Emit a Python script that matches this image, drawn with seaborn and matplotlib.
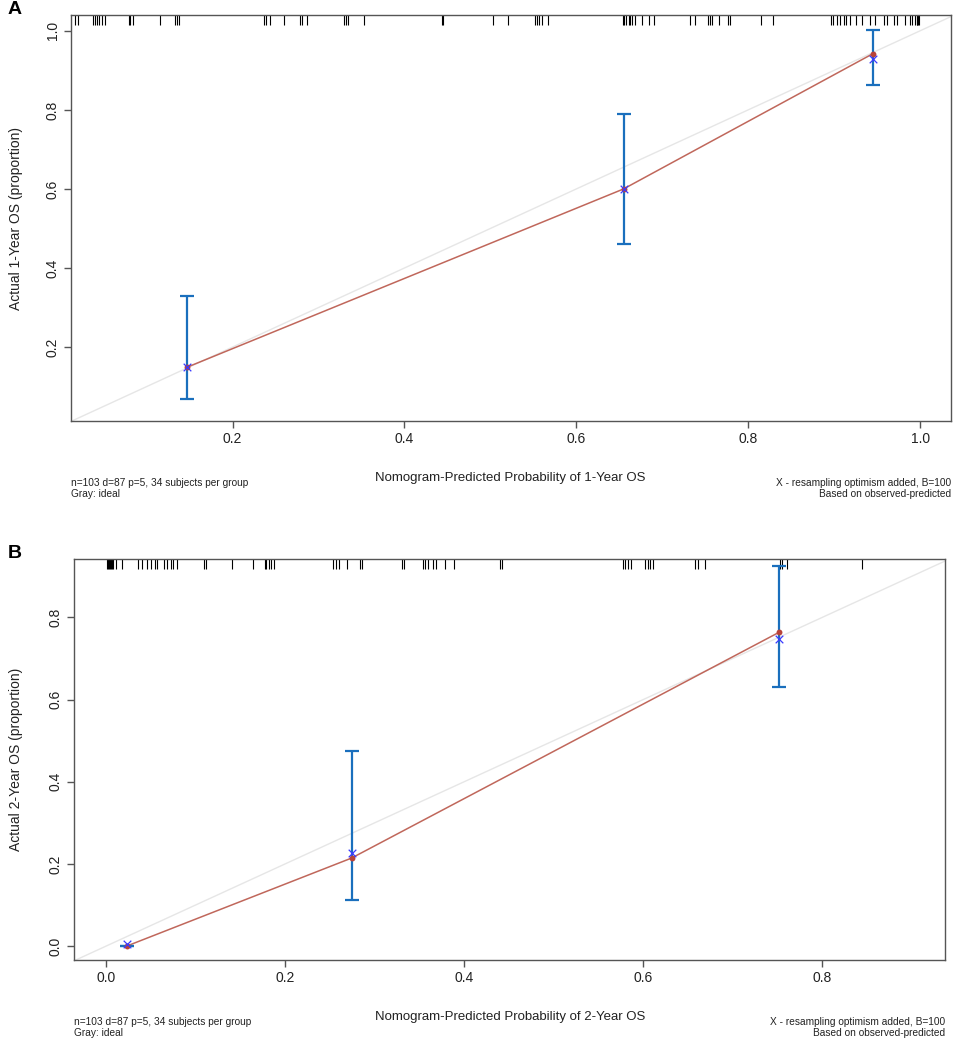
import numpy as np
import pandas as pd
import matplotlib
matplotlib.use("Agg")
import matplotlib.pyplot as plt
import seaborn as sns

# ---------------- data ----------------
# Panel A: 1-year OS
a_pred = [0.147, 0.655, 0.945]
a_obs = [0.149, 0.600, 0.942]
a_corr = [0.149, 0.600, 0.929]
a_lo = [0.068, 0.461, 0.863]
a_hi = [0.329, 0.790, 1.003]
a_rug = [0.017, 0.020, 0.038, 0.040, 0.042, 0.045, 0.048, 0.052, 0.079, 0.081,
         0.084, 0.116, 0.133, 0.135, 0.138, 0.236, 0.239, 0.244, 0.260, 0.278,
         0.281, 0.287, 0.330, 0.332, 0.334, 0.353, 0.444, 0.445, 0.503, 0.520,
         0.552, 0.554, 0.557, 0.560, 0.567, 0.654, 0.656, 0.658, 0.661, 0.663,
         0.665, 0.668, 0.677, 0.685, 0.690, 0.732, 0.738, 0.753, 0.755, 0.758,
         0.766, 0.777, 0.779, 0.815, 0.829, 0.896, 0.899, 0.903, 0.907, 0.911,
         0.914, 0.919, 0.926, 0.933, 0.942, 0.948, 0.958, 0.961, 0.970, 0.973,
         0.982, 0.988, 0.991, 0.994, 0.996, 0.997, 0.998, 0.999]
a_xticks = [0.2, 0.4, 0.6, 0.8, 1.0]
a_yticks = [0.2, 0.4, 0.6, 0.8, 1.0]

# Panel B: 2-year OS
b_pred = [0.023, 0.274, 0.752]
b_obs = [0.000, 0.214, 0.764]
b_corr = [0.005, 0.226, 0.747]
b_lo = [0.000, 0.112, 0.630]
b_hi = [0.000, 0.475, 0.925]
b_rug = [0.001, 0.002, 0.003, 0.004, 0.005, 0.006, 0.008, 0.011, 0.018, 0.036,
         0.040, 0.045, 0.050, 0.054, 0.057, 0.064, 0.068, 0.072, 0.075, 0.079,
         0.109, 0.112, 0.141, 0.164, 0.177, 0.179, 0.182, 0.184, 0.187, 0.253,
         0.257, 0.260, 0.269, 0.283, 0.286, 0.330, 0.333, 0.354, 0.356, 0.360,
         0.365, 0.368, 0.378, 0.389, 0.440, 0.442, 0.577, 0.580, 0.583, 0.586,
         0.602, 0.605, 0.608, 0.611, 0.658, 0.661, 0.669, 0.753, 0.755, 0.760,
         0.844]
b_xticks = [0.0, 0.2, 0.4, 0.6, 0.8]
b_yticks = [0.0, 0.2, 0.4, 0.6, 0.8]

footL1 = "n=103 d=87 p=5, 34 subjects per group"
footL2 = "Gray: ideal"
footR1 = "X - resampling optimism added, B=100"
footR2 = "Based on observed-predicted"

# ---------------- style ----------------
sns.set_theme(style="white")
plt.rcParams['font.family'] = ['Liberation Sans', 'DejaVu Sans']

W, H = 959, 1044
fig = plt.figure(figsize=(W / 100, H / 100), dpi=100)


def fx(px):
    return px / W


def fy(py):
    return 1 - py / H


RED = "#c0675b"
BLUE_BAR = "#1a6fbd"
BLUE_X = "#3a3aff"
DOT = "#b8433a"
GRAY = "#e6e6e6"
SPINE = "#555555"
TXT = "#222222"


def panel(box, pred, obs, corr, lo, hi, rug, xticks, yticks, xlim, ylim,
          ylabel, xlabel, letter, letter_y):
    left, top, right, bottom = box
    ax = fig.add_axes([fx(left), fy(bottom), fx(right - left), (bottom - top) / H])
    ax.set_xlim(*xlim)
    ax.set_ylim(*ylim)
    # ideal line
    ax.axline((0, 0), (1, 1), color=GRAY, lw=1.0, zorder=1)
    df = pd.DataFrame({"pred": pred, "obs": obs, "corr": corr})
    sns.lineplot(data=df, x="pred", y="obs", ax=ax, color=RED, lw=1.1,
                 estimator=None, sort=False, zorder=2)
    yerr = np.array([np.array(obs) - np.array(lo), np.array(hi) - np.array(obs)])
    yerr = np.clip(yerr, 0, None)
    ax.errorbar(pred, obs, yerr=yerr, fmt="none", ecolor=BLUE_BAR, elinewidth=1.6,
                capsize=4.8, capthick=1.6, zorder=3)
    sns.scatterplot(data=df, x="pred", y="obs", ax=ax, color=DOT, s=18,
                    edgecolor=DOT, linewidth=0, zorder=4)
    sns.scatterplot(data=df, x="pred", y="corr", ax=ax, color=BLUE_X, marker="x",
                    s=30, linewidth=0.9, zorder=5)
    # rug along top
    ax.vlines(rug, 0.975, 1.0, transform=ax.get_xaxis_transform(),
              color="black", lw=0.8, zorder=2)
    ax.set_xticks(xticks)
    ax.set_yticks(yticks)
    ax.set_xticklabels([f"{t:.1f}" for t in xticks])
    ax.set_yticklabels([f"{t:.1f}" for t in yticks], rotation=90, va="center")
    ax.tick_params(axis="both", which="both", direction="out", length=5, width=1,
                   color=SPINE, labelsize=10, labelcolor=TXT, pad=3,
                   bottom=True, left=True)
    for s in ax.spines.values():
        s.set_visible(True)
        s.set_color(SPINE)
        s.set_linewidth(1.0)
    ax.set_xlabel("")
    ax.set_ylabel("")
    # labels
    fig.text(fx(16), fy((top + bottom) / 2), ylabel, rotation=90, ha="center",
             va="center", fontsize=10, color=TXT)
    fig.text(fx(510), fy(bottom + 57), xlabel, ha="center", va="center",
             fontsize=9.5, color=TXT)
    fig.text(fx(left), fy(bottom + 62), footL1, ha="left", va="center",
             fontsize=7.3, color=TXT)
    fig.text(fx(left), fy(bottom + 73), footL2, ha="left", va="center",
             fontsize=7.3, color=TXT)
    fig.text(fx(right), fy(bottom + 62), footR1, ha="right", va="center",
             fontsize=7.3, color=TXT)
    fig.text(fx(right), fy(bottom + 73), footR2, ha="right", va="center",
             fontsize=7.3, color=TXT)
    fig.text(fx(15), fy(letter_y), letter, ha="center", va="center",
             fontsize=14, fontweight="bold", color="black")
    return ax


panel((71, 15, 951, 421), a_pred, a_obs, a_corr, a_lo, a_hi, a_rug,
      a_xticks, a_yticks, (0.012, 1.036), (0.013, 1.040),
      "Actual 1-Year OS (proportion)", "Nomogram-Predicted Probability of 1-Year OS",
      "A", 9)
panel((74, 559, 945, 960), b_pred, b_obs, b_corr, b_lo, b_hi, b_rug,
      b_xticks, b_yticks, (-0.036, 0.937), (-0.034, 0.942),
      "Actual 2-Year OS (proportion)", "Nomogram-Predicted Probability of 2-Year OS",
      "B", 554)

fig.savefig("out.png", dpi=100, facecolor="white")
